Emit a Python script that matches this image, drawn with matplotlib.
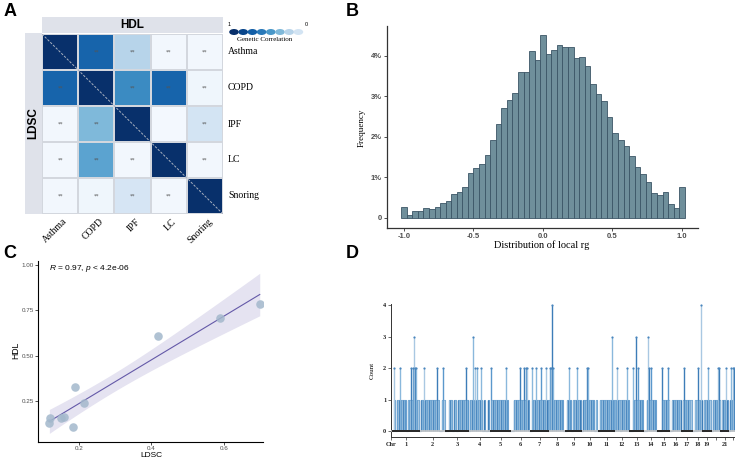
import numpy as np
import matplotlib
matplotlib.use('Agg')
import matplotlib.pyplot as plt
from matplotlib.patches import Ellipse

W, H = 735, 459
fig = plt.figure(figsize=(W / 100, H / 100), dpi=100)
plt.rcParams['mathtext.fontset'] = 'custom'
plt.rcParams['mathtext.it'] = 'Liberation Sans:italic'
plt.rcParams['mathtext.rm'] = 'Liberation Sans'

SERIF = 'Liberation Serif'
SANS = 'Liberation Sans'

# ---------------- DATA ----------------
traits = ['Asthma', 'COPD', 'IPF', 'LC', 'Snoring']
rg_matrix = [
    [1.00, 0.80, 0.30, 0.03, 0.03],
    [0.80, 1.00, 0.65, 0.80, 0.04],
    [0.03, 0.45, 1.00, 0.02, 0.18],
    [0.03, 0.55, 0.03, 1.00, 0.03],
    [0.03, 0.04, 0.17, 0.03, 1.00],
]
sig_marks = [
    ['', '**', '**', '**', '**'],
    ['**', '', '**', '**', '**'],
    ['**', '**', '', '', '**'],
    ['**', '**', '**', '', '**'],
    ['**', '**', '**', '**', ''],
]
legend_levels = [1.0, 0.92, 0.82, 0.72, 0.6, 0.45, 0.3, 0.18]

# Panel B: histogram of local rg (bin centres, percent)
rg_bin_centers = [round(-1.0 + 0.04 * i, 2) for i in range(51)]
rg_freq_pct = [0.27, 0.08, 0.18, 0.17, 0.25, 0.23, 0.28, 0.38, 0.41, 0.60,
               0.65, 0.76, 1.11, 1.23, 1.34, 1.56, 1.93, 2.32, 2.71, 2.92,
               3.08, 3.60, 3.60, 4.12, 3.90, 4.53, 4.05, 4.15, 4.27, 4.21,
               4.21, 3.94, 3.98, 3.75, 3.31, 3.06, 2.89, 2.49, 2.09, 1.93,
               1.78, 1.52, 1.27, 1.09, 0.90, 0.62, 0.58, 0.63, 0.35, 0.25,
               0.76]
hist_yticks = [0, 1, 2, 3, 4]
hist_yticklabels = ['0', '1%', '2%', '3%', '4%']
hist_xticks = [-1.0, -0.5, 0.0, 0.5, 1.0]

# Panel C: LDSC vs HDL genetic correlations
ldsc_rg = [0.118, 0.120, 0.150, 0.158, 0.184, 0.190, 0.214, 0.419, 0.590, 0.699]
hdl_rg = [0.127, 0.158, 0.155, 0.163, 0.108, 0.326, 0.239, 0.609, 0.709, 0.783]

# Panel D: count of significant pairs per locus, per chromosome
chrom_names = [str(i) for i in range(1, 23)]
chrom_shown = ['1', '2', '3', '4', '5', '6', '7', '8', '9', '10', '11', '12',
               '13', '14', '15', '16', '17', '18', '19', '', '21', '']
chrom_counts = [
    "020011121111100111212322110",
    "01112111111111111210001210",
    "00011100110011111111211",
    "0111312121112001000100",
    "21111111111111121000",
    "00011111121112122100",
    "021112111121111210",
    "12242111111111000",
    "0112100111121110",
    "01111221111100100",
    "0111111111111310",
    "112110111111210",
    "00021131211110",
    "00013212111100",
    "000021111121",
    "001111111111",
    "01211111010",
    "0010121141",
    "011112110",
    "011111221",
    "01111210",
    "01212211",
]


def px_axes(l, t, r, b):
    return fig.add_axes([l / W, 1 - b / H, (r - l) / W, (b - t) / H])


def ftext(x, y, s, **kw):
    return fig.text(x / W, 1 - y / H, s, **kw)


# ---------------- Panel labels ----------------
for lab, (x, y) in zip('ABCD', [(10, 12), (352, 12), (10, 254), (352, 254)]):
    ftext(x, y, lab, family=SANS, fontweight='bold', fontsize=13,
          ha='center', va='center')

# ---------------- Panel A ----------------
strip_col = '#dfe2ea'
ax_h = px_axes(42, 17, 223, 33)
ax_h.set_facecolor(strip_col)
ax_h.set_xticks([]); ax_h.set_yticks([])
for s in ax_h.spines.values():
    s.set_visible(False)
ax_h.text(0.5, 0.5, 'HDL', transform=ax_h.transAxes, ha='center', va='center',
          family=SANS, fontweight='bold', fontsize=8.5)

ax_v = px_axes(25, 33, 42, 214)
ax_v.set_facecolor(strip_col)
ax_v.set_xticks([]); ax_v.set_yticks([])
for s in ax_v.spines.values():
    s.set_visible(False)
ax_v.text(0.5, 0.5, 'LDSC', transform=ax_v.transAxes, ha='center', va='center',
          rotation=90, family=SANS, fontweight='bold', fontsize=8.5)

ax_a = px_axes(42, 34, 223, 214)
M = np.array(rg_matrix)
ax_a.pcolormesh(M, cmap='Blues', vmin=0, vmax=1, edgecolors='#d3d7de',
                linewidth=0.35)
ax_a.set_xlim(0, 5); ax_a.set_ylim(5, 0)
ax_a.plot([0, 5], [0, 5], color='#a7b0c0', lw=0.7, dashes=(2.5, 1.5))
n = len(traits)
for i in range(n):
    for j in range(n):
        if sig_marks[i][j]:
            ax_a.text(j + 0.5, i + 0.5, sig_marks[i][j], ha='center',
                      va='center', fontsize=4, color='#555555')
ax_a.set_xticks([]); ax_a.set_yticks([])
for s in ax_a.spines.values():
    s.set_visible(False)

cell_w = (223 - 42) / n
cell_h = (214 - 34) / n
for i, t in enumerate(traits):
    ftext(228, 34 + (i + 0.5) * cell_h, t, family=SERIF, fontsize=7,
          ha='left', va='center')
    ftext(42 + (i + 0.5) * cell_w + 6, 220, t, family=SERIF, fontsize=7,
          ha='right', va='center', rotation=45, rotation_mode='anchor')

# legend
ax_l = px_axes(224, 18, 312, 46)
ax_l.set_xlim(224, 312); ax_l.set_ylim(46, 18)
ax_l.axis('off')
cmap = plt.get_cmap('Blues')
for k, v in enumerate(legend_levels):
    ax_l.add_patch(Ellipse((234 + 9.2 * k, 32), 9.6, 6.0, facecolor=cmap(v),
                           edgecolor='none', zorder=3 + k))
ax_l.text(229.5, 24, '1', fontsize=4, family=SANS, ha='center', va='center')
ax_l.text(306, 24, '0', fontsize=4, family=SANS, ha='center', va='center')
ax_l.text(265, 39.5, 'Genetic Correlation', fontsize=5, family=SERIF,
          ha='center', va='center')

# ---------------- Panel B ----------------
ax_b = px_axes(387, 26, 698, 228)
ax_b.bar(rg_bin_centers, rg_freq_pct, width=0.04, color='#6f8f9b',
         edgecolor='#3b5566', linewidth=0.6)
ax_b.set_xlim(-1.122, 1.115)
ax_b.set_ylim(-0.247, 4.74)
ax_b.set_yticks(hist_yticks)
ax_b.set_yticklabels(hist_yticklabels)
ax_b.set_xticks(hist_xticks)
ax_b.set_xticklabels(['%.1f' % v for v in hist_xticks])
for s in ['top', 'right']:
    ax_b.spines[s].set_visible(False)
for s in ['left', 'bottom']:
    ax_b.spines[s].set_color('#333333')
    ax_b.spines[s].set_linewidth(0.9)
ax_b.tick_params(length=2, width=0.6, color='#333333', pad=1.5,
                 labelsize=5.5, labelcolor='#4d4d4d')
for lab in ax_b.get_xticklabels() + ax_b.get_yticklabels():
    lab.set_fontweight('bold'); lab.set_family(SANS)
ftext(542, 245, 'Distribution of local rg', family=SERIF, fontsize=7.5,
      ha='center', va='center')
ftext(362, 128, 'Frequency', family=SERIF, fontsize=6.5, rotation=90,
      ha='center', va='center')

# ---------------- Panel C ----------------
ax_c = px_axes(38, 261, 263, 442)
x = np.array(ldsc_rg); y = np.array(hdl_rg)
slope, icpt = np.polyfit(x, y, 1)
xs = np.linspace(x.min(), x.max(), 100)
yh = icpt + slope * xs
resid = y - (icpt + slope * x)
s_err = np.sqrt(np.sum(resid ** 2) / (len(x) - 2))
se = s_err * np.sqrt(1 / len(x) + (xs - x.mean()) ** 2 / np.sum((x - x.mean()) ** 2))
tq = 2.306
ax_c.fill_between(xs, yh - tq * se, yh + tq * se, color='#e5e3f1', lw=0, zorder=1)
ax_c.plot(xs, yh, color='#6459a8', lw=0.8, zorder=2)
ax_c.scatter(x, y, s=38, color='#a3b8cc', alpha=0.85, linewidths=0, zorder=3)
ax_c.set_xlim(0.0866, 0.708)
ax_c.set_ylim(0.024, 1.022)
ax_c.set_xticks([0.2, 0.4, 0.6])
ax_c.set_xticklabels(['0.2', '0.4', '0.6'])
ax_c.set_yticks([0.25, 0.5, 0.75, 1.0])
ax_c.set_yticklabels(['0.25', '0.50', '0.75', '1.00'])
for s in ['top', 'right']:
    ax_c.spines[s].set_visible(False)
for s in ['left', 'bottom']:
    ax_c.spines[s].set_linewidth(0.8)
ax_c.tick_params(length=2, width=0.6, color='#333333', pad=1,
                 labelsize=4.5, labelcolor='#4d4d4d')
for lab in ax_c.get_xticklabels() + ax_c.get_yticklabels():
    lab.set_family(SANS)
ax_c.text(0.118, 0.98, r'$\it{R}$ = 0.97, $\it{p}$ < 4.2e-06', family=SANS,
          fontsize=6, ha='left', va='center')
ftext(151, 455.5, 'LDSC', family=SANS, fontsize=6, ha='center', va='center')
ftext(16, 350, 'HDL', family=SANS, fontsize=6.2, rotation=90,
      ha='center', va='center')

# ---------------- Panel D ----------------
ax_d = px_axes(391, 304.4, 735, 437)
widths = [len(s) for s in chrom_counts]
starts = np.concatenate([[0], np.cumsum(widths)[:-1]])
shades = ['#5b98cc', '#a9c8e2', '#3d7db8', '#8ab8dc']
centers = []
for k, sc in enumerate(chrom_counts):
    c = np.array([int(ch) for ch in sc])
    xx = starts[k] + np.arange(len(c)) + 0.5
    centers.append(starts[k] + len(c) / 2)
    ax_d.plot(xx, np.minimum(c, 1), drawstyle='steps-mid', color='#6fa3d0',
              lw=0.8, zorder=2)
    nz = c > 0
    cols = [shades[(int(v) + k) % len(shades)] for v in np.arange(len(c))[nz]]
    ax_d.vlines(xx[nz], 0, c[nz], colors=cols, lw=1.0, zorder=3)
    hi = c >= 2
    ax_d.scatter(xx[hi], c[hi], s=2.5, color='#4a86bd', linewidths=0, zorder=4)
ax_d.axhline(0, color='#c4c4c4', lw=1.2, zorder=4)
for k, sc in enumerate(chrom_counts):
    if k % 2 == 0:
        xx = starts[k] + np.arange(len(sc)) + 0.5
        ax_d.scatter(xx, np.zeros(len(sc)), s=1.3, marker='s',
                     color='#2a2a2a', linewidths=0, zorder=5)
ax_d.set_xlim(-1.5, 342.5)
ax_d.set_ylim(-0.19, 4.02)
ax_d.set_yticks([0, 1, 2, 3, 4])
ax_d.set_xticks([-1.5] + centers)
ax_d.set_xticklabels(['Chr'] + chrom_shown)
for s in ['top', 'right']:
    ax_d.spines[s].set_visible(False)
for s in ['left', 'bottom']:
    ax_d.spines[s].set_color('#333333')
    ax_d.spines[s].set_linewidth(0.7)
ax_d.tick_params(length=2, width=0.5, color='#333333', pad=1.5,
                 labelsize=4.5, labelcolor='#222222')
for lab in ax_d.get_xticklabels() + ax_d.get_yticklabels():
    lab.set_fontweight('bold'); lab.set_family(SERIF)
ftext(372, 370, 'Count', family=SERIF, fontsize=5, rotation=90,
      ha='center', va='center')

fig.savefig('out.png', dpi=100)
